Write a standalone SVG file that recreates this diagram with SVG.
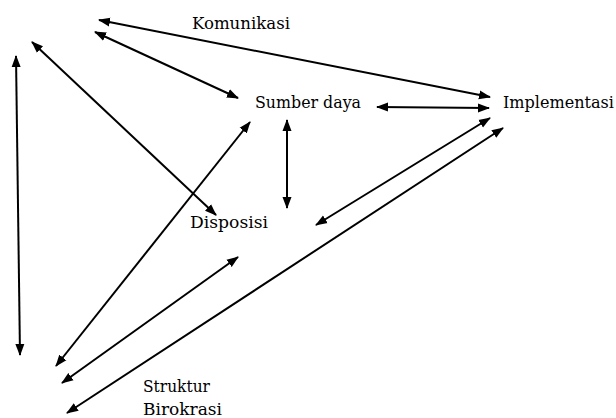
<svg xmlns="http://www.w3.org/2000/svg" width="616" height="418" viewBox="0 0 616 418">
<style>
text{font-family:"DejaVu Serif","Liberation Serif",serif;font-size:16px;fill:#000}
line{stroke:#000;stroke-width:2;marker-start:url(#ah);marker-end:url(#ah)}
</style>
<defs>
<marker id="ah" markerUnits="userSpaceOnUse" markerWidth="12" markerHeight="10" refX="11" refY="4.5" orient="auto-start-reverse" viewBox="0 0 12 9">
<path d="M0,0 L12,4.5 L0,9 z" fill="#000"/>
</marker>
</defs>
<rect width="616" height="418" fill="#fff"/>
<g id="connectors">
<line x1="99" y1="20" x2="490" y2="97"/>
<line x1="95" y1="32" x2="238" y2="98"/>
<line x1="32" y1="42" x2="216" y2="215"/>
<line x1="16" y1="56" x2="20" y2="355"/>
<line x1="250" y1="122" x2="56" y2="366"/>
<line x1="287" y1="120" x2="287" y2="208"/>
<line x1="377" y1="107" x2="489" y2="108"/>
<line x1="490" y1="118" x2="316" y2="225"/>
<line x1="503" y1="128" x2="67" y2="413"/>
<line x1="238" y1="257" x2="62" y2="383"/>
</g>
<g id="komunikasi"><text x="192" y="29" textLength="98" lengthAdjust="spacingAndGlyphs">Komunikasi</text></g>
<g id="sumber-daya"><text x="255" y="108" textLength="106" lengthAdjust="spacingAndGlyphs">Sumber daya</text></g>
<g id="implementasi"><text x="503" y="108" textLength="111" lengthAdjust="spacingAndGlyphs">Implementasi</text></g>
<g id="disposisi"><text x="190" y="228" textLength="78" lengthAdjust="spacingAndGlyphs">Disposisi</text></g>
<g id="struktur-birokrasi"><text x="143" y="392" textLength="67" lengthAdjust="spacingAndGlyphs">Struktur</text><text x="143" y="415" textLength="79" lengthAdjust="spacingAndGlyphs">Birokrasi</text></g>
</svg>
